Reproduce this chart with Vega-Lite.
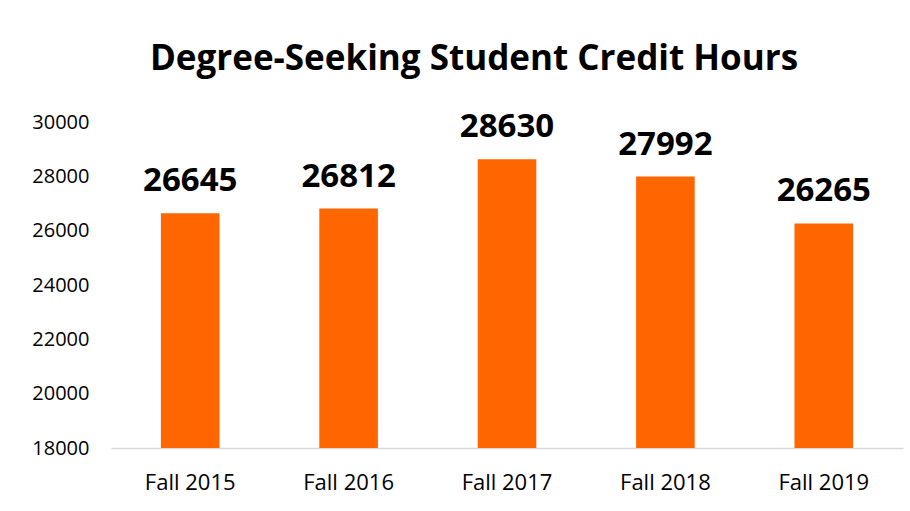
{
  "$schema": "https://vega.github.io/schema/vega-lite/v6.json",
  "autosize": {"type": "none"},
  "width": 792,
  "height": 326,
  "padding": {"left": 111, "top": 122, "right": 7, "bottom": 63},
  "background": "white",
  "title": {
    "text": "Degree-Seeking Student Credit Hours",
    "font": "Open Sans",
    "fontSize": 35,
    "fontWeight": "bold",
    "color": "#000000",
    "anchor": "middle",
    "dx": -33,
    "offset": 34
  },
  "data": {
    "values": [
      {"term": "Fall 2015", "hours": 26645},
      {"term": "Fall 2016", "hours": 26812},
      {"term": "Fall 2017", "hours": 28630},
      {"term": "Fall 2018", "hours": 27992},
      {"term": "Fall 2019", "hours": 26265}
    ]
  },
  "encoding": {
    "x": {
      "field": "term",
      "type": "nominal",
      "sort": null,
      "scale": {"paddingInner": 0.63, "paddingOuter": 0.315},
      "axis": {
        "title": null,
        "labelAngle": 0,
        "labelFont": "Open Sans",
        "labelFontSize": 22,
        "labelColor": "#000000",
        "labelPadding": 24,
        "ticks": false,
        "domainColor": "#d9d9d9",
        "domainWidth": 1.5
      }
    },
    "y": {
      "field": "hours",
      "type": "quantitative",
      "scale": {"domain": [18000, 30000], "nice": false, "zero": false},
      "axis": {
        "title": null,
        "values": [18000, 20000, 22000, 24000, 26000, 28000, 30000],
        "format": "d",
        "labelFont": "Open Sans",
        "labelFontSize": 20,
        "labelColor": "#000000",
        "labelPadding": 22,
        "ticks": false,
        "domain": false,
        "grid": false
      }
    }
  },
  "layer": [
    {
      "mark": {"type": "bar", "color": "#FF6600"},
      "encoding": {"y2": {"datum": 18000}}
    },
    {
      "mark": {
        "type": "text",
        "font": "Open Sans",
        "fontSize": 33,
        "fontWeight": "bold",
        "color": "#000000",
        "baseline": "alphabetic",
        "dy": -22
      },
      "encoding": {"text": {"field": "hours", "type": "quantitative", "format": "d"}}
    }
  ],
  "config": {"view": {"stroke": null}}
}
